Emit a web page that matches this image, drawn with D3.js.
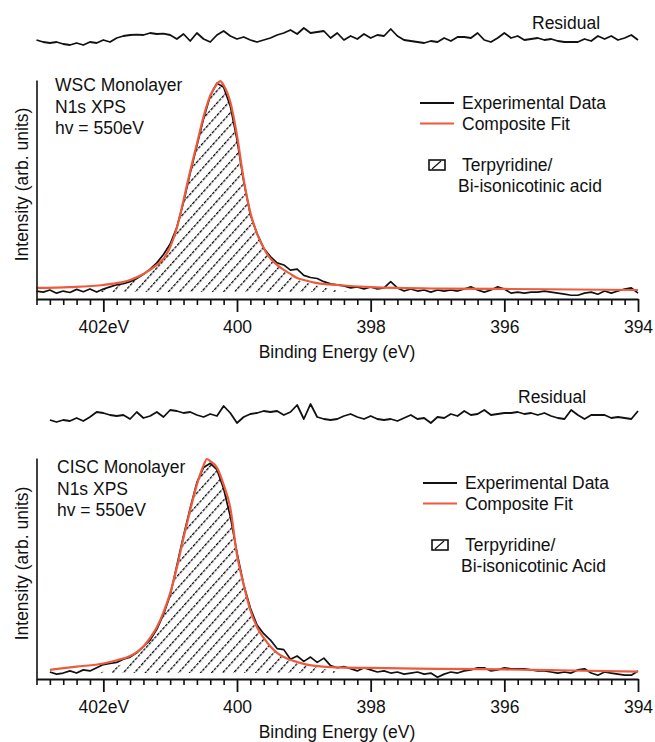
<!DOCTYPE html>
<html><head><meta charset="utf-8">
<script src="https://cdn.jsdelivr.net/npm/d3@7"></script>
<style>
body{margin:0;background:#fff;}
text{font-family:"Liberation Sans",Arial,Helvetica,sans-serif;fill:#111;}
</style></head>
<body><svg id="chart" width="655" height="742"></svg>
<script>
// ---------- DATA ----------
const majorTicks = [402, 400, 398, 396, 394];
const tickLabels = ["402eV", "400", "398", "396", "394"];
const xLabel = "Binding Energy (eV)";
const yLabel = "Intensity (arb. units)";

// experimental / residual sampled every 0.1 eV
const topStart = 403.0, botStart = 402.8;
const topExp = [-0.5,-1,0,-1.5,-0.5,-1.2,0.3,-0.8,0.5,-1,0.5,1.5,2.5,3,4,5.5,7.5,10,13,17,22,30,42,56,69,82,93,99,97,88,72,52,36,27,20,16,13,12,9.5,10,7,6,5.5,4,3,2.5,
  2,1,1.5,0.5,1.5,0.5,1,4,1,-0.5,0.5,-0.5,0,-1,0,-0.5,0,-0.5,0.5,1.5,0,-1,0,1.5,0.5,-1.5,-1,-1.5,-1,-1,-0.5,-1,-1.5,-2,-2.5,-2.5,-1.5,-1,-2,-0.5,-1.5,-0.5,0.5,1,-1.5];
const topResidual = [0,-1,-1.5,-1,-2,-2.5,-1.5,-2.5,-1,-1.5,0,-1,1,2,2.5,2.7,2.5,3.5,3,3.2,2.5,0.5,3,-0.5,3.5,0.5,-1,2.5,4.5,2,0.5,1.5,0,-1,0,1,2.5,3.5,5,3,6,3.5,4,4.5,1,3.5,0,2,0.5,3,1,2.5,2,5.5,2,0,-0.5,-1,-1.5,-0.5,-1,1,-0.5,1.5,1.5,1,3.5,0,-1,1,3.5,1,2,0,0.5,1,0,0.5,-0.5,-1,-1,-1,0.5,-0.5,2,0.5,2,0,1,2.5,0];
const topFitE = [403.0,402.5,402.0,401.8,401.6,401.4,401.2,401.1,401.0,400.9,400.8,400.7,400.6,400.5,400.4,400.3,400.25,400.2,400.1,400.0,399.9,399.8,399.7,399.6,399.5,399.4,399.3,399.2,399.1,399.0,398.8,398.5,398.0,397.0,396.0,394.0];
const topFit = [1,1.4,2.4,3.3,4.8,7.7,12,15,20.6,29.7,43,57,70,83,93,98.6,100,98,90,74,53,37,27,20,15,12,9.6,7.7,5.7,4.8,3.3,2.4,1.4,0.7,0.5,0];
const topCompE = [402.15,402.0,401.8,401.6,401.4,401.2,401.1,401.0,400.9,400.8,400.7,400.6,400.5,400.4,400.3,400.25,400.2,400.1,400.0,399.9,399.8,399.7,399.6,399.5,399.4,399.3,399.2,399.1,399.0,398.8,398.6,398.3];
const topComp = [-1,0.5,2,4,7.5,12,15,20.6,29.7,43,57,70,83,93,98.6,100,98,90,74,53,37,27,20,15,11.5,9,7,5,3.8,2,0.5,-1];

const botExp = [0,-1,-0.5,0.5,-0.5,1,0.5,2,3.5,4,4.5,6,7,9,12,15,20,27,36,50,64,77,89,96,98,95,86,73,56,41,30,22,18,15,11,10.5,6,7.5,5,7,4.5,6.5,3,2,2.5,
  1.5,0.5,2,1,0,0.5,-0.5,0,-1,-0.5,0,-1,-0.5,-2.5,-1,0,-0.5,0.5,1,2,2,0.5,1,2,1.5,1.5,1.5,1,0.5,0.5,0,-0.5,0,-0.5,1,1.5,-0.5,-1.5,0,-0.5,-1,-1.5,-1.5,0.5];
const botResidual = [-1.5,-2.5,-1.5,-2,-0.5,-2,0,2.5,2,1,0.5,1,-1,2.5,-0.5,0.5,2.5,0,3.5,3,2,2.5,1,0,1.5,0.5,5.5,2,-3,0,1.5,2,3,2.5,3,1,2.5,6,-1,6.5,0,-1,-1.5,-1,0.5,1.5,0,-1,0.5,-1,-1.5,-1,-2,-0.5,1,-1,-0.5,-3,0,-0.5,1.5,0.5,3,1,1.5,3.5,1,1.5,2,2,2.5,1.5,2,1,2,0.5,-0.5,-1,3.5,1,-1,1,1,1,-0.5,0,-0.5,-1,3];
const botFitE = [402.8,402.4,402.0,401.8,401.6,401.4,401.3,401.2,401.1,401.0,400.9,400.8,400.7,400.6,400.5,400.45,400.4,400.3,400.2,400.1,400.0,399.9,399.8,399.7,399.6,399.5,399.4,399.3,399.2,399.1,399.0,398.6,398.0,397.0,396.0,395.0,394.0];
const botFit = [1,2.5,4,5.5,7.5,12,16,21,28,37,49,63,76,88,97,100,99,96,88,77,55,41,29,21,16,12,9,7,5.6,4.7,3.8,2.3,1.9,1.5,1.2,0.7,0.2];
const botCompE = [402.05,401.9,401.7,401.5,401.4,401.3,401.2,401.1,401.0,400.9,400.8,400.7,400.6,400.5,400.45,400.4,400.3,400.2,400.1,400.0,399.9,399.8,399.7,399.6,399.5,399.4,399.3,399.2,399.1,399.0,398.8,398.6,398.45];
const botComp = [-0.5,1.5,4,7,12,16,21,28,37,49,63,76,88,97,100,99,96,88,77,55,41,29,21,16,12,9,7,5.6,4.7,3.8,2,0.8,-0.5];

const panels = [
  {name:"WSC Monolayer", start:topStart, exp:topExp, res:topResidual, fitE:topFitE, fit:topFit, compE:topCompE, comp:topComp,
   compLabel:["Terpyridine/","Bi-isonicotinic acid"]},
  {name:"CISC Monolayer", start:botStart, exp:botExp, res:botResidual, fitE:botFitE, fit:botFit, compE:botCompE, comp:botComp,
   compLabel:["Terpyridine/","Bi-isonicotinic Acid"]}
];

// ---------- LAYOUT ----------
const layout = [
  {axisY:299, topY:80, yDom:[-4.3,100.5], resMid:40, resLabelY:29, resLabelX:532, textY:91, legX:420, legY:103, compBaseY:-1},
  {axisY:679, topY:458, yDom:[-3.29,100.47], resMid:417, resLabelY:403, resLabelX:518, textY:473, legX:423, legY:483, compBaseY:-0.5}
];
const red = "#ee5a3b";
const svg = d3.select("#chart");
svg.append("rect").attr("width",655).attr("height",742).attr("fill","#fff");

const defs = svg.append("defs");
const pat = defs.append("pattern").attr("id","hatch").attr("patternUnits","userSpaceOnUse")
  .attr("width",8.2).attr("height",8.2).attr("patternTransform","rotate(42)");
pat.append("line").attr("x1",0.6).attr("y1",-1).attr("x2",0.6).attr("y2",10)
  .attr("stroke","#000").attr("stroke-width",1.3).attr("stroke-dasharray","3,1.3");

const x = d3.scaleLinear().domain([403,394]).range([36.5,638]);
const fs = 17.5;

panels.forEach((p,i)=>{
  const L = layout[i];
  const g = svg.append("g");
  const y = d3.scaleLinear().domain(L.yDom).range([L.axisY, L.topY]);
  const yr = d3.scaleLinear().domain([-10,10]).range([L.resMid+20, L.resMid-20]);
  const energies = p.exp.map((v,k)=> +(p.start - 0.1*k).toFixed(2));

  // hatched component
  const area = d3.area().x(d=>x(d[0])).y0(y(L.compBaseY)).y1(d=>y(d[1])).curve(d3.curveMonotoneX);
  g.append("path").datum(p.compE.map((e,k)=>[e,p.comp[k]])).attr("d",area).attr("fill","url(#hatch)");

  // experimental
  const line = d3.line().x(d=>x(d[0])).y(d=>y(d[1]));
  g.append("path").datum(energies.map((e,k)=>[e,p.exp[k]])).attr("d",line)
    .attr("fill","none").attr("stroke","#111").attr("stroke-width",1.7).attr("stroke-linejoin","round");
  // fit
  g.append("path").datum(p.fitE.map((e,k)=>[e,p.fit[k]])).attr("d",line.curve(d3.curveMonotoneX))
    .attr("fill","none").attr("stroke",red).attr("stroke-width",2.2);

  // residual
  const rline = d3.line().x(d=>x(d[0])).y(d=>yr(d[1]));
  g.append("path").datum(energies.map((e,k)=>[e,p.res[k]])).attr("d",rline)
    .attr("fill","none").attr("stroke","#111").attr("stroke-width",1.8).attr("stroke-linejoin","round");
  g.append("text").attr("x",L.resLabelX).attr("y",L.resLabelY).attr("font-size",fs).text("Residual");

  // axes
  const minor = d3.range(0,46).map(k=> +(403 - 0.2*k).toFixed(2)).filter(v=>!majorTicks.includes(v));
  g.append("g").attr("transform",`translate(0,${L.axisY})`)
    .call(d3.axisBottom(x).tickValues(minor).tickSize(6).tickFormat("").tickSizeOuter(0))
    .call(a=>a.select(".domain").remove())
    .selectAll("line").attr("stroke","#111").attr("stroke-width",1.6);
  const ax = g.append("g").attr("transform",`translate(0,${L.axisY})`)
    .call(d3.axisBottom(x).tickValues(majorTicks).tickSize(13).tickSizeOuter(0)
      .tickFormat((d,k)=>tickLabels[k]));
  ax.select(".domain").attr("stroke","#111").attr("stroke-width",1.8);
  ax.selectAll("line").attr("stroke","#111").attr("stroke-width",1.8);
  ax.selectAll("text").attr("y",34).attr("dy",null).attr("font-size",fs)
    .attr("font-family","Liberation Sans, Arial, sans-serif").attr("fill","#111");
  g.append("text").attr("x",337).attr("y",L.axisY+59).attr("text-anchor","middle").attr("font-size",fs).text(xLabel);

  const ay = g.append("g").attr("transform",`translate(${x(403)},0)`)
    .call(d3.axisLeft(y).tickValues([]).tickSizeOuter(0));
  ay.select(".domain").attr("stroke","#111").attr("stroke-width",1.6);
  g.append("text").attr("transform",`translate(28,${(L.topY+L.axisY)/2 - 5}) rotate(-90)`)
    .attr("text-anchor","middle").attr("font-size",fs).text(yLabel);

  // annotation
  [p.name,"N1s XPS","hv = 550eV"].forEach((t,k)=>{
    g.append("text").attr("x",55 + (i?2:0)).attr("y",L.textY + k*21.5).attr("font-size",fs).text(t);
  });

  // legend
  const lg = g.append("g");
  lg.append("line").attr("x1",L.legX).attr("x2",L.legX+34).attr("y1",L.legY).attr("y2",L.legY).attr("stroke","#111").attr("stroke-width",1.8);
  lg.append("text").attr("x",L.legX+42).attr("y",L.legY+6).attr("font-size",fs).text("Experimental Data");
  lg.append("line").attr("x1",L.legX).attr("x2",L.legX+34).attr("y1",L.legY+20.5).attr("y2",L.legY+20.5).attr("stroke",red).attr("stroke-width",2);
  lg.append("text").attr("x",L.legX+42).attr("y",L.legY+26.5).attr("font-size",fs).text("Composite Fit");
  const bx = L.legX+9, by = L.legY+57;
  lg.append("rect").attr("x",bx).attr("y",by).attr("width",16).attr("height",10).attr("fill","#fff").attr("stroke","#111").attr("stroke-width",1.6);
  lg.append("line").attr("x1",bx+3).attr("y1",by+9).attr("x2",bx+12).attr("y2",by+1).attr("stroke","#111").attr("stroke-width",1.2);
  lg.append("text").attr("x",L.legX+42).attr("y",L.legY+68).attr("font-size",fs).text(p.compLabel[0]);
  lg.append("text").attr("x",L.legX+38).attr("y",L.legY+89).attr("font-size",fs).text(p.compLabel[1]);
});
</script></body></html>
